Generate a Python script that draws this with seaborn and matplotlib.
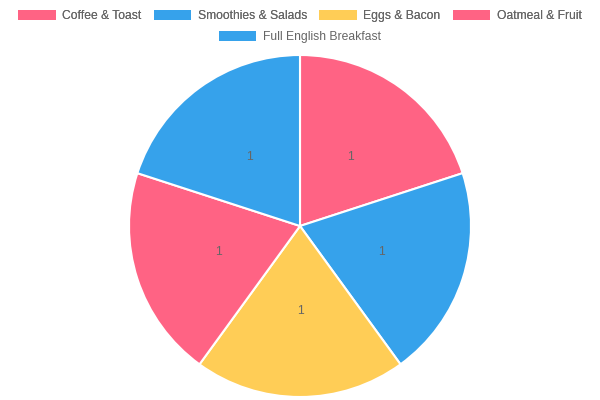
import matplotlib
matplotlib.use("Agg")
import matplotlib.pyplot as plt
from matplotlib.patches import Patch
import seaborn as sns

# --- DADOS ---
categorias = ["Coffee & Toast", "Smoothies & Salads", "Eggs & Bacon",
              "Oatmeal & Fruit", "Full English Breakfast"]
valores = [1, 1, 1, 1, 1]
cores = ["#FF6384", "#36A2EB", "#FFCD56", "#FF6384", "#36A2EB"]

sns.set_theme(style="white")
plt.rcParams['font.family'] = ['Liberation Sans', 'DejaVu Sans']

fig = plt.figure(figsize=(6, 4), dpi=100)
# pizza centrada em (300, 226) px, raio ~171 px
ax = fig.add_axes([129 / 600, 3 / 400, 342 / 600, 342 / 400])

paleta = sns.color_palette(cores)
wedges, textos = ax.pie(
    valores,
    colors=paleta,
    labels=[str(v) for v in valores],
    labeldistance=0.5,
    startangle=90,
    counterclock=False,
    wedgeprops=dict(edgecolor="white", linewidth=1.5),
    textprops=dict(color="#666666", fontsize=8.7),
)
for t in textos:
    t.set_horizontalalignment("center")
    t.set_verticalalignment("center")
ax.set_xlim(-1, 1)
ax.set_ylim(-1, 1)
ax.set_aspect("equal")

# legenda em duas linhas (4 + 1), centralizadas
handles = [Patch(facecolor=c, edgecolor="none") for c in paleta]
kw = dict(frameon=False, fontsize=8.7, labelcolor="#666666",
          handlelength=3.1, handleheight=0.95, handletextpad=0.55,
          columnspacing=1.0, borderaxespad=0, borderpad=0)
leg1 = fig.legend(handles[:4], categorias[:4], ncol=4,
                  loc="center", bbox_to_anchor=(0.5, 1 - 16 / 400), **kw)
fig.add_artist(leg1)
fig.legend(handles[4:], categorias[4:], ncol=1,
           loc="center", bbox_to_anchor=(0.5, 1 - 37 / 400), **kw)

fig.savefig("out.png", dpi=100)
